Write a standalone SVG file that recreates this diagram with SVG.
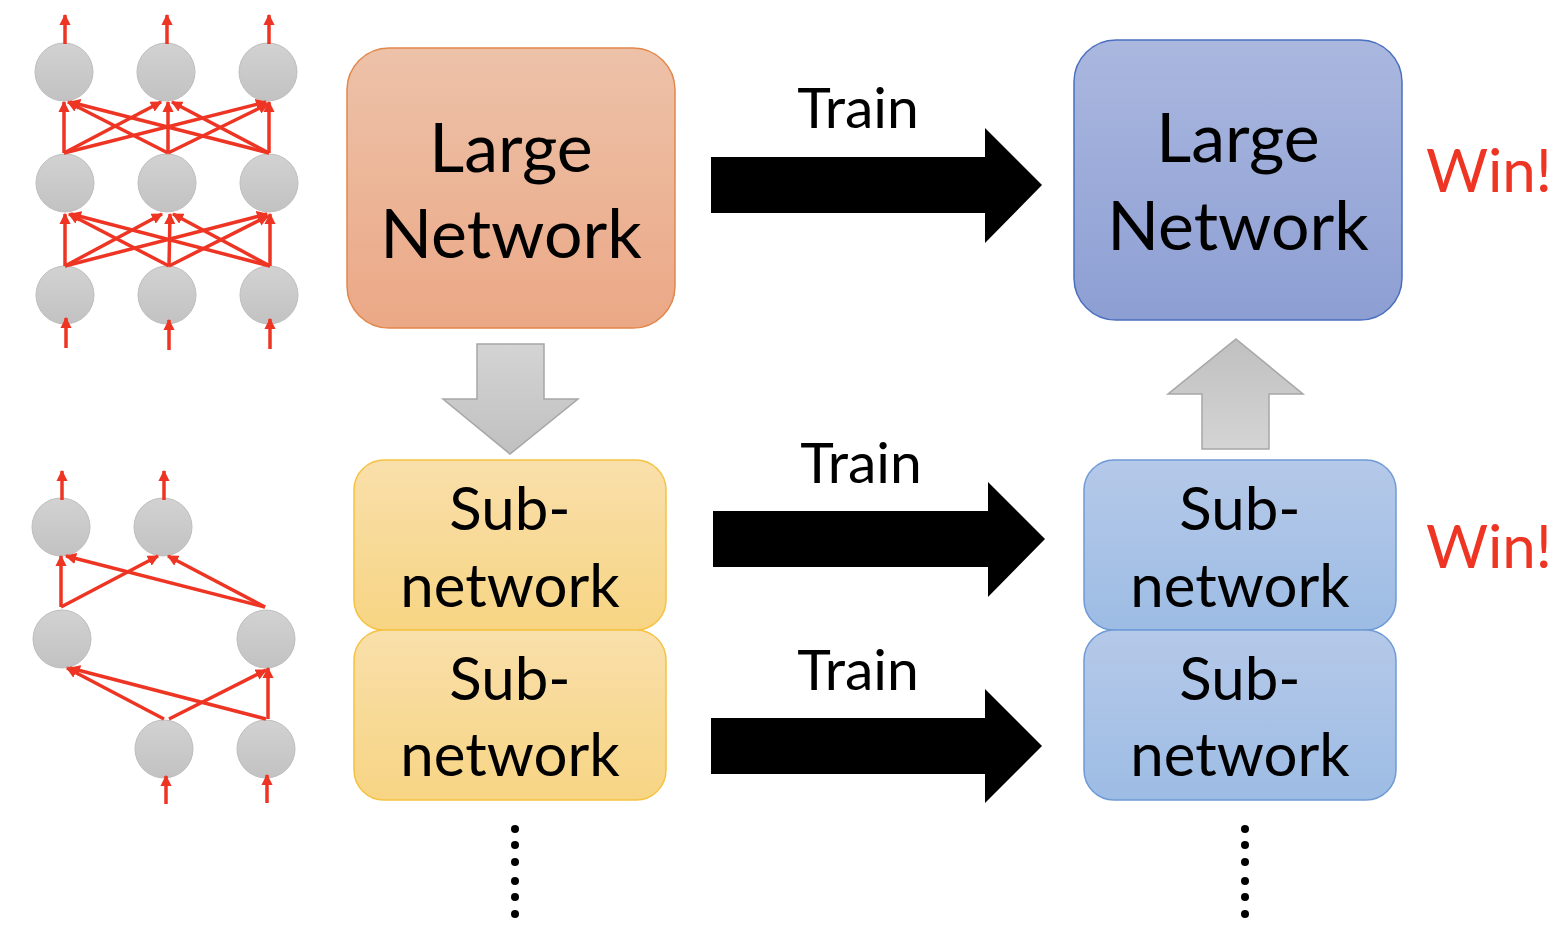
<svg xmlns="http://www.w3.org/2000/svg" width="1556" height="946" viewBox="0 0 1556 946">
<style>
.t{font-family:Lato,"Liberation Sans",sans-serif;text-anchor:middle;fill:#000}
.big{font-size:68px}
.sub{font-size:60px}
.tr{font-size:57px}
.win{font-family:Lato,"Liberation Sans",sans-serif;font-size:60px;fill:#EE3524}
.n{fill:url(#gN);stroke:#BDBDBD;stroke-width:1}
.e{stroke:#EE3524;stroke-width:3.5;fill:none;marker-end:url(#ah)}
.ba{fill:#000}
.ga{fill:url(#gG);stroke:#A6A6A6;stroke-width:1.5}
.dot{fill:#000}
</style>
<defs>
<linearGradient id="gN" x1="0" y1="0" x2="0" y2="1"><stop offset="0" stop-color="#D2D2D2"/><stop offset="1" stop-color="#C2C2C2"/></linearGradient>
<linearGradient id="gO" x1="0" y1="0" x2="0" y2="1"><stop offset="0" stop-color="#EDC2A9"/><stop offset="1" stop-color="#EBA886"/></linearGradient>
<linearGradient id="gB" x1="0" y1="0" x2="0" y2="1"><stop offset="0" stop-color="#AAB8DF"/><stop offset="1" stop-color="#8D9ED3"/></linearGradient>
<linearGradient id="gY" x1="0" y1="0" x2="0" y2="1"><stop offset="0" stop-color="#F9DFAA"/><stop offset="1" stop-color="#F7D584"/></linearGradient>
<linearGradient id="gL" x1="0" y1="0" x2="0" y2="1"><stop offset="0" stop-color="#B5C9E9"/><stop offset="1" stop-color="#9DBCE4"/></linearGradient>
<linearGradient id="gG" x1="0" y1="0" x2="0" y2="1"><stop offset="0" stop-color="#D4D4D4"/><stop offset="1" stop-color="#C0C0C0"/></linearGradient>
<linearGradient id="gGu" x1="0" y1="1" x2="0" y2="0"><stop offset="0" stop-color="#D4D4D4"/><stop offset="1" stop-color="#C0C0C0"/></linearGradient>
<marker id="ah" viewBox="0 0 10 10" refX="9" refY="5" markerWidth="3.2" markerHeight="3.2" orient="auto" markerUnits="strokeWidth"><path d="M0,0 L10,5 L0,10 z" fill="#EE3524"/></marker>
</defs>

<g id="net-large">
<circle class="n" cx="64" cy="72" r="29"/><circle class="n" cx="166" cy="72" r="29"/><circle class="n" cx="268" cy="72" r="29"/>
<circle class="n" cx="65" cy="183" r="29"/><circle class="n" cx="167" cy="183" r="29"/><circle class="n" cx="269" cy="183" r="29"/>
<circle class="n" cx="65" cy="295" r="29"/><circle class="n" cx="167" cy="295" r="29"/><circle class="n" cx="269" cy="295" r="29"/>
</g>
<g id="net-sub">
<circle class="n" cx="61" cy="527" r="29"/><circle class="n" cx="163" cy="527" r="29"/>
<circle class="n" cx="62" cy="639" r="29"/><circle class="n" cx="266" cy="639" r="29"/>
<circle class="n" cx="164" cy="749" r="29"/><circle class="n" cx="266" cy="749" r="29"/>
</g>

<g id="connectors">
<line class="e" x1="65" y1="44" x2="65" y2="15"/><line class="e" x1="167" y1="44" x2="167" y2="15"/><line class="e" x1="269" y1="44" x2="269" y2="15"/>
<line class="e" x1="66" y1="348" x2="66" y2="318"/><line class="e" x1="169" y1="350" x2="169" y2="320"/><line class="e" x1="270" y1="349" x2="270" y2="319"/>
<line class="e" x1="64" y1="153" x2="64" y2="102"/><line class="e" x1="64" y1="153" x2="161" y2="102"/><line class="e" x1="64" y1="153" x2="266" y2="102"/>
<line class="e" x1="168" y1="153" x2="68" y2="102"/><line class="e" x1="168" y1="153" x2="168" y2="102"/><line class="e" x1="168" y1="153" x2="268" y2="104"/>
<line class="e" x1="269" y1="153" x2="70" y2="102"/><line class="e" x1="269" y1="153" x2="172" y2="102"/><line class="e" x1="269" y1="153" x2="269" y2="102"/>
<line class="e" x1="65" y1="266" x2="65" y2="214"/><line class="e" x1="65" y1="266" x2="162" y2="214"/><line class="e" x1="65" y1="266" x2="267" y2="214"/>
<line class="e" x1="169" y1="266" x2="69" y2="214"/><line class="e" x1="169" y1="266" x2="170" y2="214"/><line class="e" x1="169" y1="266" x2="268" y2="216"/>
<line class="e" x1="270" y1="266" x2="71" y2="214"/><line class="e" x1="270" y1="266" x2="173" y2="214"/><line class="e" x1="270" y1="266" x2="270" y2="214"/>
<line class="e" x1="62" y1="500" x2="62" y2="471"/><line class="e" x1="164" y1="500" x2="164" y2="471"/>
<line class="e" x1="166" y1="804" x2="166" y2="776"/><line class="e" x1="267" y1="803" x2="267" y2="775"/>
<line class="e" x1="61" y1="607" x2="61" y2="556"/><line class="e" x1="61" y1="607" x2="158" y2="556"/>
<line class="e" x1="265" y1="607" x2="66" y2="556"/><line class="e" x1="265" y1="607" x2="168" y2="556"/>
<line class="e" x1="164" y1="719" x2="67" y2="668"/><line class="e" x1="169" y1="719" x2="266" y2="670"/>
<line class="e" x1="266" y1="719" x2="70" y2="668"/><line class="e" x1="268" y1="719" x2="268" y2="668"/>

<polygon class="ba" points="711,157 985,157 985,128 1042,185 985,243 985,213 711,213"/>
<polygon class="ba" points="713,511 988,511 988,482 1045,539 988,597 988,567 713,567"/>
<polygon class="ba" points="711,718 985,718 985,689 1042,746 985,803 985,774 711,774"/>
<polygon class="ga" points="477,344 544,344 544,399 578,399 510,454 443,399 477,399"/>
<polygon class="ga" style="fill:url(#gGu)" points="1236,339 1303,394 1269,394 1269,449 1202,449 1202,394 1168,394"/>
</g>

<g id="box-large-orange">
<rect x="347" y="48" width="328" height="280" rx="42" fill="url(#gO)" stroke="#E2874C" stroke-width="1.5"/>
<text class="t big" x="511" y="172">Large</text>
<text class="t big" x="511" y="258">Network</text>
</g>
<g id="box-large-blue">
<rect x="1074" y="40" width="328" height="280" rx="42" fill="url(#gB)" stroke="#4A6FC0" stroke-width="1.5"/>
<text class="t big" x="1238" y="162">Large</text>
<text class="t big" x="1238" y="250">Network</text>
</g>
<g id="box-sub-y1">
<rect x="354" y="460" width="312" height="170" rx="30" fill="url(#gY)" stroke="#F5C242" stroke-width="1.5"/>
<text class="t sub" x="510" y="530">Sub-</text>
<text class="t sub" x="510" y="607">network</text>
</g>
<g id="box-sub-y2">
<rect x="354" y="630" width="312" height="170" rx="30" fill="url(#gY)" stroke="#F5C242" stroke-width="1.5"/>
<text class="t sub" x="510" y="700">Sub-</text>
<text class="t sub" x="510" y="776">network</text>
</g>
<g id="box-sub-b1">
<rect x="1084" y="460" width="312" height="170" rx="30" fill="url(#gL)" stroke="#6F9AD6" stroke-width="1.5"/>
<text class="t sub" x="1240" y="530">Sub-</text>
<text class="t sub" x="1240" y="607">network</text>
</g>
<g id="box-sub-b2">
<rect x="1084" y="630" width="312" height="170" rx="30" fill="url(#gL)" stroke="#6F9AD6" stroke-width="1.5"/>
<text class="t sub" x="1240" y="700">Sub-</text>
<text class="t sub" x="1240" y="776">network</text>
</g>

<g id="labels">
<text class="t tr" x="858" y="128">Train</text>
<text class="t tr" x="861" y="483">Train</text>
<text class="t tr" x="858" y="690">Train</text>
<text class="win" x="1426" y="192">Win!</text>
<text class="win" x="1426" y="568">Win!</text>
</g>

<g id="dots">
<circle class="dot" cx="515" cy="829" r="4"/><circle class="dot" cx="515" cy="845" r="4"/><circle class="dot" cx="515" cy="862" r="4"/><circle class="dot" cx="515" cy="881" r="4"/><circle class="dot" cx="515" cy="897" r="4"/><circle class="dot" cx="515" cy="914" r="4"/>
<circle class="dot" cx="1245" cy="829" r="4"/><circle class="dot" cx="1245" cy="845" r="4"/><circle class="dot" cx="1245" cy="862" r="4"/><circle class="dot" cx="1245" cy="881" r="4"/><circle class="dot" cx="1245" cy="897" r="4"/><circle class="dot" cx="1245" cy="914" r="4"/>
</g>
</svg>
